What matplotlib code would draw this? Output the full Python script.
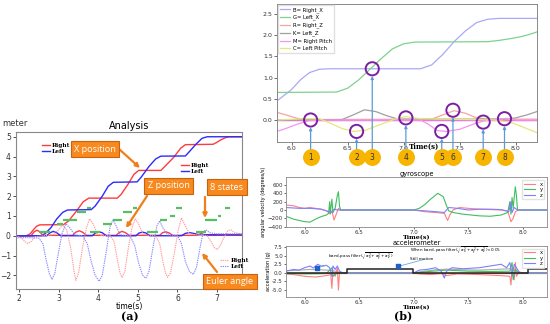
import matplotlib
matplotlib.use("Agg")
import matplotlib.pyplot as plt
import matplotlib.transforms as mtransforms
from matplotlib.lines import Line2D

# ---------------- DATA: panel (a) ----------------
right_x_pos = [(1.92,0),(2.18,0),(2.28,0.1),(2.36,0.3),(2.44,0.48),(2.52,0.55),(3.12,0.56),(3.25,0.75),
               (3.45,1.25),(3.62,1.72),(3.76,1.9),(4.48,1.9),(4.58,2.1),(4.75,2.6),(4.9,3.1),(5.02,3.3),
               (5.58,3.3),(5.68,3.5),(5.9,3.95),(6.08,4.42),(6.2,4.6),(6.9,4.62),(6.98,4.7),(7.1,4.85),
               (7.22,4.96),(7.3,5.0),(7.63,5.0)]
left_x_pos = [(1.92,0),(2.55,0),(2.65,0.1),(2.8,0.4),(2.95,0.85),(3.1,1.18),(3.22,1.3),(3.82,1.32),
              (3.92,1.5),(4.1,2.0),(4.25,2.5),(4.38,2.7),(4.98,2.72),(5.08,2.95),(5.28,3.5),(5.45,3.88),
              (5.58,4.02),(6.2,4.03),(6.3,4.25),(6.48,4.65),(6.62,4.92),(6.75,5.0),(7.63,5.0)]
right_z_pos = [(1.92,0),(2.3,0),(2.38,0.2),(2.45,0.28),(2.52,0.2),(2.6,0.02),(3.35,0.02),(3.43,0.18),
               (3.52,0.25),(3.6,0.18),(3.7,0.02),(4.45,0.02),(4.53,0.16),(4.6,0.22),(4.68,0.16),(4.78,0.02),
               (5.55,0.02),(5.62,0.15),(5.7,0.2),(5.78,0.15),(5.88,0.02),(6.5,0.02),(6.6,0.12),(6.7,0.02),(7.63,0.02)]
left_z_pos = [(1.92,0),(2.7,0),(2.78,0.15),(2.86,0.22),(2.95,0.15),(3.05,0.0),(3.85,0.0),(3.93,0.15),
              (4.02,0.2),(4.1,0.15),(4.2,0.0),(4.95,0.0),(5.03,0.14),(5.12,0.18),(5.2,0.14),(5.3,0.0),
              (6.1,0.0),(6.2,0.12),(6.3,0.16),(6.4,0.12),(6.55,0.05),(7.63,0.05)]
right_euler = [(1.92,0.0),(2.05,-0.1),(2.15,-0.3),(2.22,-0.4),(2.3,-0.3),(2.4,-0.05),(2.6,0.0),(2.85,0.05),
               (3.0,0.3),(3.1,0.55),(3.2,0.3),(3.3,-0.6),(3.38,-1.7),(3.43,-2.25),(3.5,-1.9),(3.6,-0.6),
               (3.7,0.4),(3.78,0.85),(3.87,0.6),(3.97,0.1),(4.1,0.0),(4.3,0.0),(4.4,-0.3),(4.48,-1.2),
               (4.55,-1.9),(4.6,-2.1),(4.67,-1.8),(4.76,-0.6),(4.85,0.4),(4.93,0.85),(5.02,0.6),(5.12,0.1),
               (5.3,0.0),(5.45,0.0),(5.55,-0.4),(5.63,-1.3),(5.7,-1.9),(5.75,-2.1),(5.82,-1.9),(5.92,-0.9),
               (6.02,0.3),(6.1,0.9),(6.2,0.5),(6.3,0.1),(6.45,0.05),(6.6,0.05),(6.75,0.0),(6.85,-0.3),
               (6.93,-0.6),(7.0,-0.7),(7.08,-0.5),(7.17,-0.1),(7.27,0.25),(7.35,0.3),(7.45,0.15),(7.63,0.1)]
left_euler = [(1.92,-0.1),(2.3,-0.1),(2.5,-0.12),(2.6,-0.4),(2.68,-1.2),(2.76,-1.9),(2.83,-2.2),(2.9,-1.9),
              (2.98,-1.0),(3.08,0.1),(3.18,0.6),(3.28,0.4),(3.4,0.05),(3.6,0.0),(3.72,-0.4),(3.82,-1.3),
              (3.92,-2.0),(4.02,-2.3),(4.1,-2.0),(4.2,-0.8),(4.3,0.5),(4.37,0.8),(4.45,0.5),(4.55,0.05),
              (4.8,0.0),(4.92,-0.5),(5.02,-1.4),(5.12,-2.0),(5.2,-2.15),(5.28,-1.8),(5.38,-0.6),(5.48,0.5),
              (5.55,0.75),(5.63,0.4),(5.75,0.05),(6.0,0.0),(6.1,-0.4),(6.2,-1.3),(6.3,-1.8),(6.4,-1.95),
              (6.48,-1.6),(6.57,-0.6),(6.65,0.2),(6.72,0.3),(6.82,0.15),(7.0,0.1),(7.63,0.1)]
state_t0 = [2.49, 2.95, 3.10, 3.47, 3.72, 3.80, 4.12, 4.37, 4.62, 4.87, 5.22, 5.55, 5.80, 5.97, 6.48, 6.69, 7.03, 7.20]
state_t1 = [2.78, 3.10, 3.46, 3.70, 3.82, 4.05, 4.34, 4.60, 4.85, 4.97, 5.50, 5.73, 5.93, 6.12, 6.73, 7.00, 7.10, 7.32]
state_lv = [0.2, 0.6, 0.8, 1.2, 1.4, 0.2, 0.6, 0.8, 1.2, 1.4, 0.2, 0.8, 1.0, 1.4, 0.2, 0.8, 1.0, 1.4]
a_xticks = [2, 3, 4, 5, 6, 7]
a_yticks = [-2, -1, 0, 1, 2, 3, 4, 5]

# ---------------- DATA: panel (b) top ----------------
b_right_x = [(5.87,0.45),(6.0,0.72),(6.08,0.95),(6.16,1.12),(6.25,1.2),(6.35,1.21),(7.15,1.21),(7.25,1.3),
             (7.35,1.55),(7.45,1.85),(7.55,2.1),(7.65,2.3),(7.75,2.38),(7.85,2.4),(8.19,2.4)]
b_left_x = [(5.87,0.65),(6.4,0.66),(6.5,0.75),(6.6,0.95),(6.7,1.2),(6.8,1.45),(6.9,1.68),(7.0,1.8),
            (7.1,1.84),(7.75,1.85),(7.85,1.88),(7.95,1.92),(8.05,1.97),(8.12,2.02),(8.19,2.08)]
b_right_z = [(5.87,0.18),(5.95,0.12),(6.05,0.04),(6.15,0.01),(7.25,0.02),(7.35,0.12),(7.45,0.22),
             (7.55,0.16),(7.65,0.05),(7.75,0.02),(8.19,0.02)]
b_left_z = [(5.87,0.0),(6.45,0.01),(6.55,0.12),(6.65,0.24),(6.75,0.2),(6.85,0.1),(6.95,0.02),(7.9,0.02),
            (8.0,0.05),(8.1,0.12),(8.19,0.2)]
b_right_pitch = [(5.87,-0.27),(5.95,-0.2),(6.05,-0.1),(6.15,-0.02),(6.25,0.0),(7.15,0.0),(7.22,-0.1),
                 (7.3,-0.25),(7.38,-0.27),(7.5,-0.22),(7.62,-0.1),(7.72,-0.02),(7.85,0.02),(7.92,0.04),(8.0,0.0),(8.19,0.0)]
b_left_pitch = [(5.87,0.0),(6.1,0.03),(6.25,0.03),(6.35,-0.08),(6.45,-0.2),(6.55,-0.27),(6.65,-0.25),
                (6.8,-0.1),(6.92,0.02),(7.02,0.08),(7.15,0.03),(7.8,0.0),(7.95,-0.05),(8.05,-0.15),(8.19,-0.3)]
circle_t = [6.17, 6.58, 6.72, 7.02, 7.34, 7.44, 7.71, 7.90]
circle_v = [0.0, -0.27, 1.21, 0.05, -0.27, 0.23, -0.05, 0.03]
circle_labels = ['1', '2', '3', '4', '5', '6', '7', '8']
b_xticks = [6.0, 6.5, 7.0, 7.5, 8.0]
b_yticks = [0.0, 0.5, 1.0, 1.5, 2.0, 2.5]

# ---------------- DATA: gyroscope ----------------
gyro_x = [(5.83,120),(5.9,100),(5.95,60),(6.0,40),(6.05,60),(6.1,40),(6.15,20),(6.2,-20),(6.23,-80),
          (6.25,-20),(6.27,-240),(6.29,-100),(6.31,40),(6.33,0),(7.0,0),(7.05,-20),(7.1,-40),(7.2,-60),
          (7.28,-80),(7.31,-250),(7.33,-120),(7.36,0),(7.42,60),(7.5,40),(7.6,20),(7.7,10),(7.8,0),
          (7.86,-20),(7.89,-280),(7.91,-200),(7.93,-40),(7.96,0),(8.22,0)]
gyro_y = [(5.83,-150),(5.9,-220),(6.0,-280),(6.05,-290),(6.1,-220),(6.15,-160),(6.2,-120),(6.22,-80),
          (6.23,200),(6.235,-100),(6.25,260),(6.26,-60),(6.28,40),(6.3,350),(6.31,440),(6.32,100),(6.33,0),
          (7.0,0),(7.05,40),(7.1,130),(7.15,250),(7.22,400),(7.27,320),(7.3,100),(7.32,-20),(7.36,-60),
          (7.45,-100),(7.6,-140),(7.7,-150),(7.8,-120),(7.86,-60),(7.88,200),(7.89,-100),(7.9,300),
          (7.91,50),(7.93,560),(7.94,350),(7.95,0),(8.22,0)]
gyro_z = [(5.83,60),(5.95,40),(6.05,40),(6.15,20),(6.2,-20),(6.25,-60),(6.27,20),(6.3,0),(7.0,0),
          (7.1,-20),(7.2,-40),(7.28,-60),(7.32,60),(7.4,40),(7.5,0),(7.6,20),(7.7,20),(7.8,10),(7.87,-40),
          (7.89,200),(7.9,-60),(7.92,60),(7.95,0),(8.22,0)]
gyro_yticks = [-400, -200, 0, 200, 400, 600]

# ---------------- DATA: accelerometer ----------------
acc_x = [(5.83,-0.3),(5.9,-0.5),(6.0,-1.0),(6.1,-1.2),(6.2,-0.8),(6.24,-0.5),(6.25,-4.5),(6.26,0.5),
         (6.28,-1.0),(6.3,1.5),(6.31,-5.0),(6.32,0),(6.35,0),(7.0,0),(7.05,-0.3),(7.15,-0.5),(7.25,-0.2),
         (7.3,-0.8),(7.4,-0.3),(7.6,-0.5),(7.8,-0.8),(7.88,-1.0),(7.89,-3.5),(7.9,1.0),(7.92,-2.0),
         (7.93,3.0),(7.94,-1.0),(7.96,0),(8.22,0)]
acc_y = [(5.83,-0.2),(6.0,-0.3),(6.2,-0.2),(6.25,1.5),(6.26,-1.0),(6.3,0),(7.0,0),(7.1,0.3),(7.3,0.8),
         (7.5,0.5),(7.7,0.4),(7.88,0.5),(7.9,3.0),(7.91,-2.0),(7.93,1.0),(7.96,0),(8.22,0)]
acc_z = [(5.83,0.5),(5.9,1.0),(5.95,0.8),(6.0,1.5),(6.05,2.0),(6.08,1.4),(6.12,2.5),(6.15,2.0),(6.2,2.2),
         (6.23,1.5),(6.25,-1.0),(6.26,2.0),(6.28,1.0),(6.3,2.0),(6.32,0.5),(6.35,0),(7.0,0),(7.05,0.8),
         (7.12,1.0),(7.2,1.5),(7.25,0.5),(7.28,-1.5),(7.3,0.5),(7.35,1.5),(7.45,1.2),(7.6,1.5),(7.7,2.0),
         (7.8,2.5),(7.85,1.5),(7.88,3.0),(7.9,-1.0),(7.92,2.5),(7.95,1.0),(7.97,0),(8.22,0)]
acc_mag = [(5.83,0.6),(5.95,0.8),(6.05,1.0),(6.15,0.9),(6.25,0.7),(6.35,0.0),(7.0,0.0),(7.1,0.5),
           (7.2,0.9),(7.3,1.1),(7.45,0.9),(7.6,0.8),(7.75,1.0),(7.88,1.2),(7.95,0.4),(8.0,0.0),(8.22,0.0)]
still_t = [5.83, 6.39, 6.99, 8.05, 8.22]
still_v = [0.0, 1.2, 0.0, 1.2, 1.2]
acc_yticks = [-5.0, -2.5, 0.0, 2.5, 5.0, 7.5]
marker_pts = [(6.11, 1.45), (6.86, 1.9)]

W, H = 550, 324
fig = plt.figure(figsize=(W / 100, H / 100), dpi=100)
fig.patch.set_facecolor('white')

def fbox(l, t, r, b):
    return [l / W, 1 - b / H, (r - l) / W, (b - t) / H]

def split(pairs):
    return [p[0] for p in pairs], [p[1] for p in pairs]

def fp(x, y):
    return (x, H - y)

serif_b = dict(family='serif', weight='bold')

# ---------------- panel (a) ----------------
axa = fig.add_axes(fbox(16, 132, 242, 289))
RED, BLUE = '#ff3b3b', '#2b2bff'
l1, = axa.plot(*split(right_x_pos), color=RED, lw=1.0)
l2, = axa.plot(*split(left_x_pos), color=BLUE, lw=1.0)
l3, = axa.plot(*split(right_z_pos), color=RED, lw=1.0)
l4, = axa.plot(*split(left_z_pos), color=BLUE, lw=1.0)
l5, = axa.plot(*split(right_euler), color='#ff9a9a', lw=0.8, ls=(0, (1.2, 0.8)))
l6, = axa.plot(*split(left_euler), color='#8a8aff', lw=0.8, ls=(0, (1.2, 0.8)))
axa.hlines(state_lv, state_t0, state_t1, color='#55c060', lw=1.6)
axa.set_xlim(1.92, 7.63)
axa.set_ylim(-2.69, 5.24)
axa.set_xticks(a_xticks)
axa.set_yticks(a_yticks)
axa.tick_params(labelsize=5.5, length=2.5, width=0.6, pad=1.2, colors='#333333')
for s in axa.spines.values():
    s.set_color('#888888'); s.set_linewidth(0.8)
axa.set_title('Analysis', fontsize=7, pad=2)
axa.set_xlabel('time(s)', fontsize=5.5, labelpad=-0.5)
fig.text(2 / W, 1 - 123 / H, 'meter', fontsize=6, va='center', ha='left', color='#333333')
fig.text(130 / W, 1 - 317 / H, '(a)', fontsize=8, ha='center', va='center', **serif_b)

lp = dict(frameon=False, handlelength=1.4, handletextpad=0.4, labelspacing=0.15,
          borderpad=0, prop=dict(family='serif', weight='bold', size=4.2))
lg1 = axa.legend([l1, l2], ['Right', 'Left'], loc='center left', bbox_to_anchor=(0.10, 0.895), **lp)
axa.add_artist(lg1)
lg2 = axa.legend([Line2D([], [], color=RED, lw=1), Line2D([], [], color=BLUE, lw=1)], ['Right', 'Left'],
                 loc='center left', bbox_to_anchor=(0.715, 0.77), **lp)
axa.add_artist(lg2)
lg3 = axa.legend([l5, l6], ['Right', 'Left'], loc='center left', bbox_to_anchor=(0.89, 0.164), **lp)

ORANGE, ORANGE_E = '#f7891f', '#c8620c'
callouts = [('X position', 95, 149), ('Z position', 168.5, 186), ('8 states', 227, 187), ('Euler angle', 230, 281.5)]
for txt, cx, cy in callouts:
    fig.text(cx / W, 1 - cy / H, txt, fontsize=6.6, color='white', ha='center', va='center',
             family='Open Sans',
             bbox=dict(boxstyle='square,pad=0.35', fc=ORANGE, ec=ORANGE_E, lw=0.8))
arrows_a = [((119, 149), (140, 168)), ((147, 196), (126, 228)), ((205, 197), (205, 218)), ((217, 272), (202, 253))]
for (x0, y0), (x1, y1) in arrows_a:
    axa.annotate('', xy=fp(x1, y1), xycoords='figure pixels', xytext=fp(x0, y0), textcoords='figure pixels',
                 arrowprops=dict(arrowstyle='-|>', color='#f07f1a', lw=1.6, mutation_scale=6, shrinkA=0, shrinkB=0),
                 annotation_clip=False)

# ---------------- panel (b) top ----------------
axb = fig.add_axes(fbox(277, 4, 537, 142))
cols_b = ['#a9a9f5', '#7fd18f', '#f5a3a3', '#a0a0a0', '#f494f4', '#e6e67a']
names_b = ['B= Right_X', 'G= Left_X', 'R= Right_Z', 'K= Left_Z', 'M= Right Pitch', 'C= Left Pitch']
series_b = [b_right_x, b_left_x, b_right_z, b_left_z, b_right_pitch, b_left_pitch]
axb.axhline(0, color='#a0a040', lw=0.9, zorder=1)
axb.axhline(0.005, color='#f070f0', lw=0.9, zorder=1)
hb = []
for s, c, n in zip(series_b, cols_b, names_b):
    h, = axb.plot(*split(s), color=c, lw=0.9, label=n)
    hb.append(h)
axb.set_xlim(5.87, 8.19)
axb.set_ylim(-0.52, 2.74)
axb.set_xticks(b_xticks)
axb.set_yticks(b_yticks)
axb.set_xticklabels([f'{v:.1f}' for v in b_xticks])
axb.set_yticklabels([f'{v:.1f}' for v in b_yticks])
axb.tick_params(labelsize=4.5, length=2, width=0.5, pad=1, colors='#333333')
for s in axb.spines.values():
    s.set_color('#888888'); s.set_linewidth(0.7)
axb.legend(handles=hb, loc='upper left', fontsize=3.8, handlelength=2.0, handletextpad=0.5, labelspacing=0.42,
           borderpad=0.35, borderaxespad=0.2, framealpha=0.9, edgecolor='#dddddd', fancybox=False)
axb.scatter(circle_t, circle_v, s=90, facecolors='none', edgecolors='#7b1fa2', linewidths=1.4, zorder=5)
trb = mtransforms.blended_transform_factory(axb.transData, axb.transAxes)
for t, v, lab in zip(circle_t, circle_v, circle_labels):
    axb.scatter([t], [-0.109], s=125, color='#f7b500', transform=trb, clip_on=False, zorder=6)
    axb.text(t, -0.109, lab, transform=trb, fontsize=5.5, ha='center', va='center', color='#333333', zorder=7)
    axb.annotate('', xy=(t, v - 0.17), xycoords='data', xytext=(t, -0.056), textcoords=trb,
                 arrowprops=dict(arrowstyle='-|>', color='#5b9bd5', lw=0.9, mutation_scale=4, shrinkA=0, shrinkB=0),
                 annotation_clip=False)
fig.text(424 / W, 1 - 147 / H, 'Time(s)', fontsize=5, ha='center', va='center', **serif_b)

# ---------------- gyroscope ----------------
axg = fig.add_axes(fbox(286, 177.3, 547, 227.3))
cx_, cy_, cz_ = '#ff7f7f', '#3fbf5f', '#7f7fff'
axg.plot(*split(gyro_x), color=cx_, lw=0.8, label='x')
axg.plot(*split(gyro_y), color=cy_, lw=0.8, label='y')
axg.plot(*split(gyro_z), color=cz_, lw=0.8, label='z')
axg.set_xlim(5.83, 8.22)
axg.set_ylim(-415, 785)
axg.set_xticks(b_xticks)
axg.set_yticks(gyro_yticks)
axg.set_xticklabels([f'{v:.1f}' for v in b_xticks])
axg.tick_params(labelsize=4, length=1.5, width=0.5, pad=0.8, colors='#333333')
for s in axg.spines.values():
    s.set_color('#888888'); s.set_linewidth(0.6)
axg.set_title('gyroscope', fontsize=4.8, pad=1.2)
axg.set_xlabel('Time(s)', fontsize=4.6, labelpad=-0.5, **serif_b)
axg.set_ylabel('angular velocity (degrees/s)', fontsize=3.6, labelpad=1)
axg.legend(loc='upper right', fontsize=3.8, handlelength=2.2, labelspacing=0.1, borderpad=0.3,
           edgecolor='#dddddd', fancybox=False)

# ---------------- accelerometer ----------------
axc = fig.add_axes(fbox(286, 246, 547, 297))
axc.axhline(0, color='#c8803a', lw=0.9)
axc.plot(*split(acc_mag), color='#aaaaaa', lw=0.8)
axc.plot(*split(acc_x), color=cx_, lw=0.8, label='x')
axc.plot(*split(acc_y), color=cy_, lw=0.8, label='y')
axc.plot(*split(acc_z), color=cz_, lw=0.8, label='z')
axc.step(still_t, still_v, where='post', color='#222222', lw=1.1)
axc.set_xlim(5.83, 8.22)
axc.set_ylim(-7.0, 7.8)
axc.set_xticks(b_xticks)
axc.set_yticks(acc_yticks)
axc.set_xticklabels([f'{v:.1f}' for v in b_xticks])
axc.set_yticklabels([f'{v:.1f}' for v in acc_yticks])
axc.tick_params(labelsize=4, length=1.5, width=0.5, pad=0.8, colors='#333333')
for s in axc.spines.values():
    s.set_color('#888888'); s.set_linewidth(0.6)
axc.set_title('accelerometer', fontsize=4.8, pad=1.0)
axc.set_xlabel('Time(s)', fontsize=4.6, labelpad=-0.5, **serif_b)
axc.set_ylabel('acceleration (g)', fontsize=3.6, labelpad=1)
axc.legend(loc='upper right', fontsize=3.8, handlelength=2.2, labelspacing=0.1, borderpad=0.3,
           edgecolor='#dddddd', fancybox=False)
mx, my = split(marker_pts)
axc.scatter(mx, my, marker='s', s=6, color='#1f5fd0', zorder=6)
axc.annotate(r'band-pass filter($\sqrt{a_x^2+a_y^2+a_z^2}$)', xy=marker_pts[0], xycoords='data',
             xytext=fp(328, 257), textcoords='figure pixels', fontsize=3.0, va='center', ha='left',
             arrowprops=dict(arrowstyle='-', color='#6fa8e0', lw=0.6, shrinkA=0, shrinkB=1),
             annotation_clip=False)
axc.annotate(r'When band-pass filter($\sqrt{a_x^2+a_y^2+a_z^2}$)<0.05', xy=marker_pts[1], xycoords='data',
             xytext=fp(410, 251), textcoords='figure pixels', fontsize=3.0, va='center', ha='left',
             arrowprops=dict(arrowstyle='-', color='#6fa8e0', lw=0.6, shrinkA=0, shrinkB=1),
             annotation_clip=False)
fig.text(410 / W, 1 - 259 / H, 'Still motion', fontsize=3.0, va='center', ha='left')
fig.text(403 / W, 1 - 316 / H, '(b)', fontsize=8, ha='center', va='center', **serif_b)

fig.savefig('out.png', dpi=100)
